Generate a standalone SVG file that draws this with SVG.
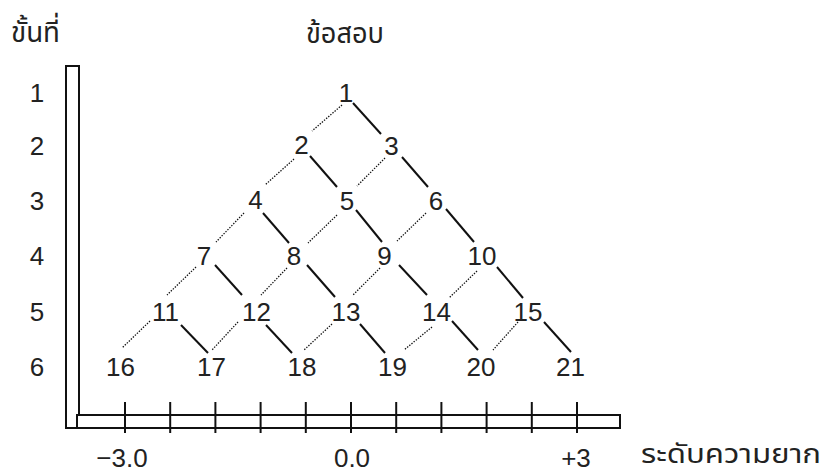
<svg xmlns="http://www.w3.org/2000/svg" width="833" height="476" viewBox="0 0 833 476">
<style>
text{font-family:"Liberation Sans",Arial,sans-serif;font-size:26px;fill:#222;text-anchor:middle}
.th{font-family:"Noto Sans Thai","Noto Sans","DejaVu Sans",sans-serif;font-size:29px;text-anchor:start}
.s{stroke:#111;stroke-width:2;fill:none}
.d{stroke:#111;stroke-width:1.3;stroke-dasharray:1.4 1.4;fill:none}
.bar{fill:#fff;stroke:#111;stroke-width:2}
.tick{stroke:#111;stroke-width:2}
</style>
<rect width="833" height="476" fill="#fff"/>
<g id="headers">
<text class="th" x="11" y="42" textLength="49" lengthAdjust="spacingAndGlyphs">ขั้นที่</text>
<text class="th" x="306" y="43" textLength="78" lengthAdjust="spacingAndGlyphs">ข้อสอบ</text>
<text class="th" x="641" y="463" style="font-size:27px" textLength="180" lengthAdjust="spacingAndGlyphs">ระดับความยาก</text>
</g>
<g id="rows">
<text x="37" y="101.5">1</text>
<text x="37" y="154.5">2</text>
<text x="37" y="209.5">3</text>
<text x="37" y="265">4</text>
<text x="37" y="320.5">5</text>
<text x="37" y="376">6</text>
</g>
<g id="axes">
<rect class="bar" x="66" y="66" width="13" height="362"/>
<rect class="bar" x="77" y="415" width="543" height="13"/>
<line class="tick" x1="125" y1="402" x2="125" y2="433"/>
<line class="tick" x1="170.2" y1="402" x2="170.2" y2="433"/>
<line class="tick" x1="215.4" y1="402" x2="215.4" y2="433"/>
<line class="tick" x1="260.6" y1="402" x2="260.6" y2="433"/>
<line class="tick" x1="305.8" y1="402" x2="305.8" y2="433"/>
<line class="tick" x1="351" y1="402" x2="351" y2="433"/>
<line class="tick" x1="396.2" y1="402" x2="396.2" y2="433"/>
<line class="tick" x1="441.4" y1="402" x2="441.4" y2="433"/>
<line class="tick" x1="486.6" y1="402" x2="486.6" y2="433"/>
<line class="tick" x1="531.8" y1="402" x2="531.8" y2="433"/>
<line class="tick" x1="577" y1="402" x2="577" y2="433"/>
<text x="122" y="467">−3.0</text>
<text x="352" y="467">0.0</text>
<text x="576" y="467">+3</text>
</g>
<g id="connectors">
<line class="s" x1="353" y1="103" x2="381" y2="134"/>
<line class="s" x1="310" y1="156" x2="337" y2="187"/>
<line class="s" x1="402" y1="157" x2="428" y2="187"/>
<line class="s" x1="263" y1="213" x2="289" y2="243"/>
<line class="s" x1="356" y1="210" x2="382" y2="242"/>
<line class="s" x1="446" y1="209" x2="474" y2="242"/>
<line class="s" x1="215" y1="265" x2="242" y2="295"/>
<line class="s" x1="307" y1="265" x2="335" y2="297"/>
<line class="s" x1="399" y1="265" x2="427" y2="295"/>
<line class="s" x1="497" y1="267" x2="523" y2="298"/>
<line class="s" x1="181" y1="325" x2="208" y2="353"/>
<line class="s" x1="266" y1="325" x2="292" y2="353"/>
<line class="s" x1="360" y1="324" x2="385" y2="353"/>
<line class="s" x1="452" y1="321" x2="478" y2="350"/>
<line class="s" x1="544" y1="322" x2="571" y2="352"/>
<line class="d" x1="342" y1="105" x2="312" y2="131"/>
<line class="d" x1="294" y1="159" x2="265" y2="185"/>
<line class="d" x1="385" y1="158" x2="357" y2="186"/>
<line class="d" x1="244" y1="213" x2="216" y2="242"/>
<line class="d" x1="337" y1="215" x2="308" y2="243"/>
<line class="d" x1="426" y1="213" x2="397" y2="241"/>
<line class="d" x1="196" y1="267" x2="167" y2="295"/>
<line class="d" x1="287" y1="268" x2="261" y2="295"/>
<line class="d" x1="380" y1="268" x2="353" y2="295"/>
<line class="d" x1="477" y1="271" x2="449" y2="298"/>
<line class="d" x1="150" y1="321" x2="122" y2="348"/>
<line class="d" x1="238" y1="322" x2="212" y2="350"/>
<line class="d" x1="332" y1="324" x2="304" y2="350"/>
<line class="d" x1="432" y1="327" x2="404" y2="350"/>
<line class="d" x1="518" y1="322" x2="493" y2="350"/>
</g>
<g id="n1"><text x="346" y="101.5">1</text></g>
<g id="n2"><text x="301.5" y="154">2</text></g>
<g id="n3"><text x="391.5" y="154.5">3</text></g>
<g id="n4"><text x="255.5" y="209">4</text></g>
<g id="n5"><text x="347" y="209.5">5</text></g>
<g id="n6"><text x="436" y="209.5">6</text></g>
<g id="n7"><text x="204" y="265">7</text></g>
<g id="n8"><text x="294" y="265">8</text></g>
<g id="n9"><text x="384.5" y="265">9</text></g>
<g id="n10"><text x="482" y="265">10</text></g>
<g id="n11"><text x="165.5" y="320.5">11</text></g>
<g id="n12"><text x="256.5" y="320.5">12</text></g>
<g id="n13"><text x="346" y="320.5">13</text></g>
<g id="n14"><text x="436.5" y="320.5">14</text></g>
<g id="n15"><text x="528" y="320.5">15</text></g>
<g id="n16"><text x="120.5" y="376">16</text></g>
<g id="n17"><text x="211.5" y="376">17</text></g>
<g id="n18"><text x="302" y="376">18</text></g>
<g id="n19"><text x="392.5" y="376">19</text></g>
<g id="n20"><text x="481" y="376">20</text></g>
<g id="n21"><text x="570.5" y="376">21</text></g>
</svg>
